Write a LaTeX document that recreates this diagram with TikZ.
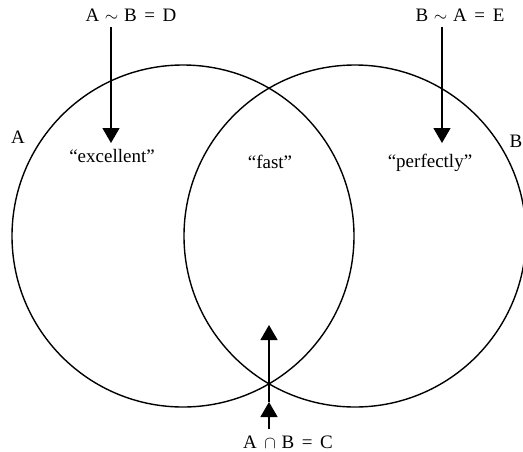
\documentclass[tikz,border=0pt]{standalone}
\usepackage{fontspec}
\setmainfont{Liberation Serif}
\usetikzlibrary{arrows.meta}
\begin{document}
\begin{tikzpicture}[x=1pt,y=-1pt,
  ring/.style={draw,line width=1.4pt},
  lbl/.style={font=\fontsize{19}{22}\selectfont, inner sep=0pt, anchor=base},
  ptr/.style={line width=1.4pt,-{Triangle[width=17pt,length=15pt]}}]
\useasboundingbox (0,0) rectangle (523,451);
\clip (0,0) rectangle (523,451);
% circles
\draw[ring] (183,236) circle[radius=171];
\draw[ring] (355,236) circle[radius=171];
% set labels
\node[lbl] (setA) at (18,143) {A};
\node[lbl] (setB) at (516,147) {B};
% region words
\node[lbl] (exc) at (112,162) {“excellent”};
\node[lbl] (fst) at (270,168) {“fast”};
\node[lbl] (prf) at (430,167) {“perfectly”};
% top labels and arrows
\node[lbl] (AD) at (131,21) {A\hspace{.3em}$\sim$\hspace{.3em}B\hspace{.4em}=\hspace{.4em}D};
\node[lbl] (BE) at (460,21) {B\hspace{.3em}$\sim$\hspace{.3em}A\hspace{.4em}=\hspace{.4em}E};
\coordinate (d1) at (111,143);
\coordinate (e1) at (442,143);
\draw[ptr,shorten <=6pt] (AD.south -| d1) -- (d1);
\draw[ptr,shorten <=6pt] (BE.south -| e1) -- (e1);
% bottom label and arrows
\node[lbl] (AC) at (288,448) {A\hspace{.4em}$\cap$\hspace{.3em}B\hspace{.4em}=\hspace{.4em}C};
\coordinate (c1) at (269,402);
\coordinate (c2) at (269,325);
\draw[ptr,shorten <=6pt] (AC.north -| c1) -- (c1);
\draw[ptr] (c1) -- (c2);
\end{tikzpicture}
\end{document}
